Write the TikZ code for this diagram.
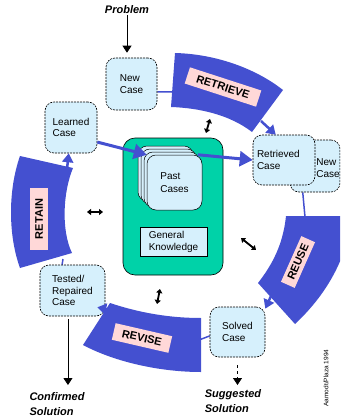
\documentclass[tikz,border=0pt]{standalone}
\usepackage{fontspec}
\setmainfont{Liberation Sans}
\usetikzlibrary{arrows.meta,calc}
\definecolor{caseblue}{HTML}{D6F0FC}
\definecolor{bandblue}{HTML}{4450D0}
\definecolor{labelpink}{HTML}{FFD8D8}
\definecolor{kbgreen}{HTML}{00D2A8}
\pgfdeclarelayer{background}
\pgfsetlayers{background,main}
\begin{document}
\begin{tikzpicture}[x=1pt,y=-1pt,
 casebox/.style={draw=black, line width=0.6pt, dash pattern=on 2pt off 1pt, fill=caseblue, rounded corners=9pt, align=left, inner sep=2pt, font=\fontsize{10}{11.5}\selectfont},
 stackcard/.style={draw=black, line width=0.5pt, fill=caseblue, rounded corners=9pt},
 band/.style={fill=bandblue, draw=none},
 bandlabel/.style={fill=labelpink, font=\bfseries\fontsize{11}{12}\selectfont, inner sep=0pt, minimum height=17pt},
 thinblue/.style={draw=bandblue, line width=1.5pt},
 bluearrow/.style={draw=bandblue, line width=2.5pt, -{Triangle[length=9pt,width=11pt]}},
 bigarrow/.style={draw=bandblue, line width=3pt, -{Triangle[length=13pt,width=15pt]}},
 blackarrow/.style={draw=black, line width=0.8pt, -{Triangle[length=7pt,width=9pt]}},
 twoway/.style={draw=black, line width=1.8pt, {Triangle[length=4pt,width=6pt]}-{Triangle[length=4pt,width=6pt]}},
 outtext/.style={font=\bfseries\itshape\fontsize{11}{15.5}\selectfont, align=left, inner sep=1pt}
]
\useasboundingbox (0,0) rectangle (340,420);
\clip (0,0) rectangle (340,420);

% ---- bands ----
\fill[band] (175,53) .. controls (215,54) and (255,68) .. (283,90) -- (252,132)
  .. controls (230,115) and (200,108) .. (171,107) -- cycle;
\fill[band] (286,216) -- (352,216) .. controls (347,260) and (325,296) .. (295,324)
  -- (258,283) .. controls (272,265) and (283,245) .. (286,216) -- cycle;
\fill[band] (110,303) .. controls (140,313) and (170,318) .. (201,318) -- (201,372)
  .. controls (160,372) and (115,362) .. (83,345) -- cycle;
\fill[band] (20,156) -- (73,168) .. controls (63,192) and (61,230) .. (72,253)
  -- (20,268) .. controls (8,235) and (8,190) .. (20,156) -- cycle;

\node[bandlabel, rotate=-18, minimum width=75pt] (lretrieve) at (223,87) {RETRIEVE};
\node[bandlabel, rotate=66, minimum width=50pt, minimum height=15pt] (lreuse) at (298,262) {REUSE};
\node[bandlabel, rotate=-13, minimum width=58pt] (lrevise) at (142,338) {REVISE};
\node[bandlabel, rotate=90, minimum width=62pt, minimum height=18pt] (lretain) at (39,219) {RETAIN};

% ---- knowledge base ----
\node[draw=black, fill=kbgreen, rounded corners=12pt, minimum width=100pt, minimum height=137pt, line width=0.6pt] (kb) at (173,206.5) {};
\foreach \d in {9,6,3}
  \draw[stackcard] (147-\d,155-\d) rectangle (202-\d,210-\d);
\node[stackcard, minimum width=55pt, minimum height=55pt, align=left, font=\fontsize{10}{12.5}\selectfont] (past) at (174.5,182.5) {Past\\Cases};
\node[draw=black, line width=0.5pt, fill=caseblue, minimum width=67pt, minimum height=29pt, align=left, font=\fontsize{10}{12}\selectfont] (gk) at (173.5,241.5) {General\\Knowledge};

% ---- case boxes ----
\node[casebox, minimum width=51pt, minimum height=52pt] (new) at (131.5,84) {New\\Case};
\node[casebox, minimum width=52pt, minimum height=51pt] (learned) at (71,127.5) {Learned\\Case};
\node[casebox, minimum width=50pt, minimum height=52pt] (retnew) at (315,166) {};
\node[font=\fontsize{10}{11.5}\selectfont, align=left, inner sep=0pt] (retnewtext) at (328,168) {New\\Case};
\node[casebox, minimum width=62pt, minimum height=50pt, text width=54pt] (ret) at (284,160) {Retrieved\\Case};
\node[casebox, minimum width=55pt, minimum height=50pt] (solved) at (237.5,332) {Solved\\Case};
\node[casebox, minimum width=65pt, minimum height=51pt] (tested) at (72.5,290.5) {Tested/\\Repaired\\Case};

% ---- outer texts ----
\node[outtext] (prob) at (127,10) {Problem};
\node[outtext] (conf) at (57,404) {Confirmed\\Solution};
\node[outtext] (sugg) at (233,401) {Suggested\\Solution};
\node[rotate=90, font=\fontsize{6.5}{7}\selectfont] (credit) at (326,378) {Aamodt/Plaza 1994};

% ---- connectors ----
\coordinate (retrIn) at (172,92);
\coordinate (retrOut) at (261,121);
\coordinate (reuseIn) at (305,217);
\coordinate (reuseOut) at (271,296);
\coordinate (revIn) at (199,340);
\coordinate (revOut) at (116,311);
\coordinate (retainIn) at (63,259);
\coordinate (retainOut) at (67,169);

\begin{pgfonlayer}{background}
\draw[thinblue] (new.-17) -- (retrIn);
\draw[thinblue] (retnew.-115) -- (reuseIn);
\draw[thinblue] (solved.188) -- (revIn);
\draw[thinblue] (tested.112) -- (retainIn);
\end{pgfonlayer}

\draw[blackarrow, shorten >=5pt] (prob.south) -- (prob.south |- new.north);
\draw[bluearrow] (retrOut) -- (ret.108);
\draw[bluearrow] (reuseOut) -- (solved.40);
\draw[blackarrow, dashed, shorten <=8pt, shorten >=3pt] (solved.south) -- (solved.south |- sugg.north);
\draw[bluearrow] (revOut) -- ($(tested.south east)+(-8,-9)$);
\draw[blackarrow, shorten <=3pt, shorten >=6pt] (tested.-100) -- (tested.-100 |- conf.north);
\draw[bluearrow] (retainOut) -- (learned.-95);
\draw[bigarrow] (learned.-29) -- (past.135);
\draw[bigarrow] (past.50) -- (ret.west);

% ---- two-way interaction marks ----
\coordinate (t1a) at (206,133); \coordinate (t1b) at (210,119);
\coordinate (t2a) at (87,212);  \coordinate (t2b) at (103,212);
\coordinate (t3a) at (241,238); \coordinate (t3b) at (256,250);
\coordinate (t4a) at (157,304); \coordinate (t4b) at (160,289);
\draw[twoway] (t1a) -- (t1b);
\draw[twoway] (t2a) -- (t2b);
\draw[twoway] (t3a) -- (t3b);
\draw[twoway] (t4a) -- (t4b);
\end{tikzpicture}
\end{document}
